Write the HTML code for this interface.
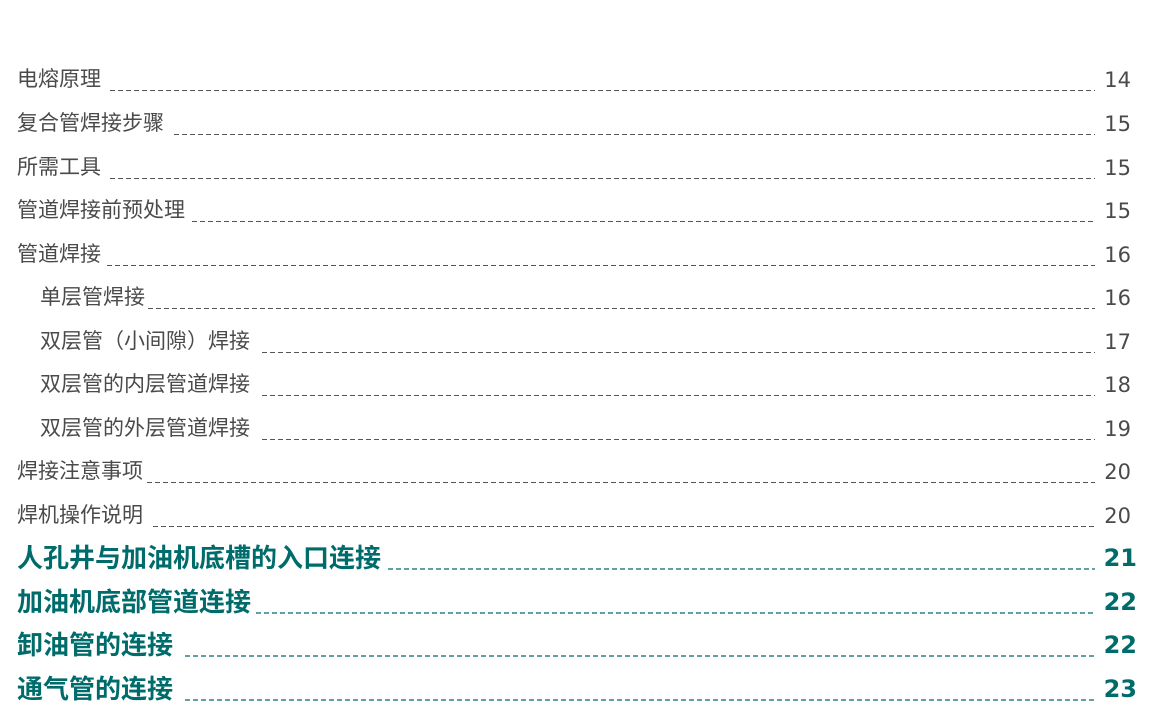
<!DOCTYPE html>
<html><head><meta charset="utf-8"><style>
body{margin:0;width:1159px;height:712px;background:#fff;position:relative;overflow:hidden;font-family:"Liberation Sans","Noto Sans CJK SC",sans-serif}
.t{position:absolute;font-size:21px;color:#4a4a4a;line-height:24px;white-space:nowrap}
.b{font-size:26px;font-weight:bold;color:#006b6b;line-height:28px}
.n{position:absolute;right:28px;text-align:right;font-size:21px;color:#4a4a4a;line-height:24px;font-family:"DejaVu Sans","Liberation Sans",sans-serif}
.nb{right:22px;font-size:24px;font-weight:bold;color:#006b6b;line-height:28px}
svg{position:absolute;left:0;top:0}
</style></head><body>
<svg width="1159" height="712">
<g stroke="#555" stroke-width="1" stroke-dasharray="5,3">
<line x1="110" y1="90.5" x2="1095" y2="90.5"/>
<line x1="174" y1="134.5" x2="1095" y2="134.5"/>
<line x1="110" y1="178.5" x2="1095" y2="178.5"/>
<line x1="192" y1="221.5" x2="1095" y2="221.5"/>
<line x1="107" y1="265.5" x2="1095" y2="265.5"/>
<line x1="148" y1="308.5" x2="1095" y2="308.5"/>
<line x1="262" y1="352.5" x2="1095" y2="352.5"/>
<line x1="262" y1="395.5" x2="1095" y2="395.5"/>
<line x1="262" y1="439.5" x2="1095" y2="439.5"/>
<line x1="147" y1="482.5" x2="1095" y2="482.5"/>
<line x1="153" y1="526.5" x2="1095" y2="526.5"/>
</g>
<g stroke="#006b6b" stroke-width="1.3" stroke-dasharray="5,3">
<line x1="388" y1="569" x2="1095" y2="569"/>
<line x1="256" y1="613" x2="1095" y2="613"/>
<line x1="185" y1="656" x2="1095" y2="656"/>
<line x1="185" y1="700" x2="1095" y2="700"/>
</g>
</svg>
<div class="t" style="left:17px;top:68px">电熔原理</div><div class="n" style="top:68px">14</div>
<div class="t" style="left:17px;top:112px">复合管焊接步骤</div><div class="n" style="top:112px">15</div>
<div class="t" style="left:17px;top:156px">所需工具</div><div class="n" style="top:156px">15</div>
<div class="t" style="left:17px;top:199px">管道焊接前预处理</div><div class="n" style="top:199px">15</div>
<div class="t" style="left:17px;top:243px">管道焊接</div><div class="n" style="top:243px">16</div>
<div class="t" style="left:40px;top:286px">单层管焊接</div><div class="n" style="top:286px">16</div>
<div class="t" style="left:40px;top:330px">双层管（小间隙）焊接</div><div class="n" style="top:330px">17</div>
<div class="t" style="left:40px;top:373px">双层管的内层管道焊接</div><div class="n" style="top:373px">18</div>
<div class="t" style="left:40px;top:417px">双层管的外层管道焊接</div><div class="n" style="top:417px">19</div>
<div class="t" style="left:17px;top:460px">焊接注意事项</div><div class="n" style="top:460px">20</div>
<div class="t" style="left:17px;top:504px">焊机操作说明</div><div class="n" style="top:504px">20</div>
<div class="t b" style="left:17px;top:544px">人孔井与加油机底槽的入口连接</div><div class="n nb" style="top:544px">21</div>
<div class="t b" style="left:17px;top:588px">加油机底部管道连接</div><div class="n nb" style="top:588px">22</div>
<div class="t b" style="left:17px;top:631px">卸油管的连接</div><div class="n nb" style="top:631px">22</div>
<div class="t b" style="left:17px;top:675px">通气管的连接</div><div class="n nb" style="top:675px">23</div>
</body></html>
